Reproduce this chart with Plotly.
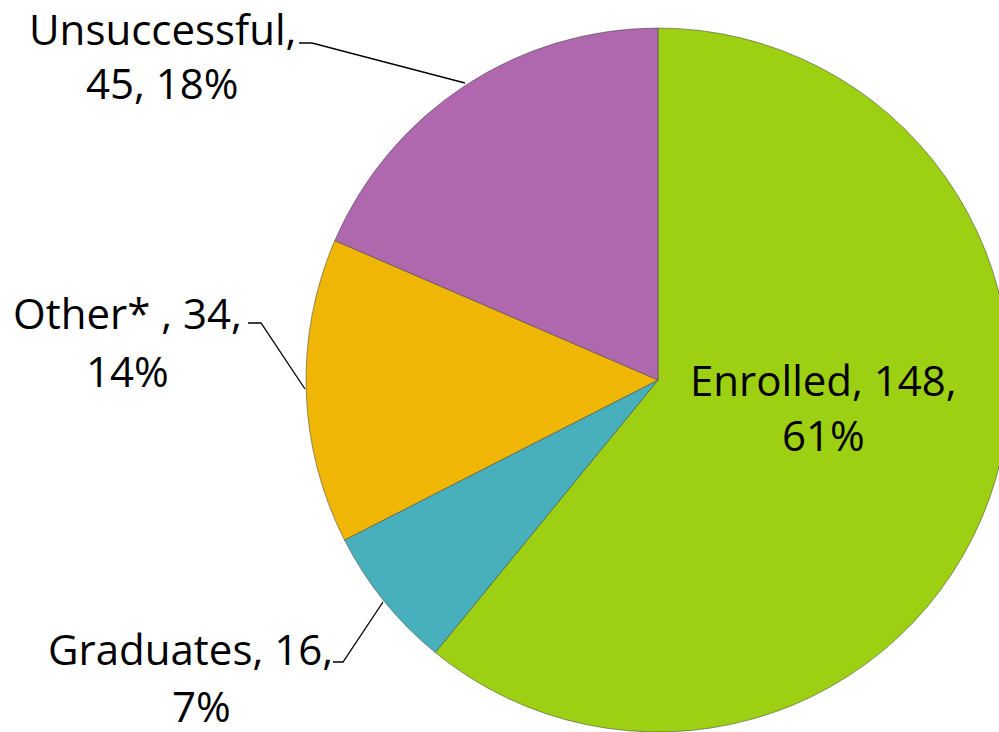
import plotly.graph_objects as go

# ---- data ----
labels = ["Enrolled", "Graduates", "Other* ", "Unsuccessful"]
values = [148, 16, 34, 45]
percents = [61, 7, 14, 18]

# ---- styling ----
colors = ["#9DD012", "#47B0BC", "#EFB606", "#AF68AE"]
OFF = 0            # page body margin removed below
W, H = 1012, 733   # figure size (pie slightly cropped on the right like the reference)
FONT = "Open Sans"
FS = 42

def px(x):
    return (x - OFF) / W

def py(y):
    return 1 - (y - OFF) / H

# pie geometry on screen: center (658, 380), radius ~352
CX, CY, R = 658, 380, 352

fig = go.Figure()
fig.add_trace(go.Pie(
    labels=labels,
    values=values,
    sort=False,
    direction="clockwise",
    rotation=0,
    textinfo="none",
    hoverinfo="label+value+percent",
    marker=dict(colors=colors, line=dict(color="rgba(70,70,70,0.55)", width=1)),
    domain=dict(x=[px(CX - R), min(1.0, px(CX + R))], y=[max(0.0, py(CY + R)), py(CY - R)]),
    showlegend=False,
))

# label placement: line1 (center x, y), line2 (center x, y), parts on first line
label_pos = {
    "Enrolled": ((823, 379), (823, 435), 2),
    "Graduates": ((190, 648), (201, 705), 2),
    "Other* ": ((127, 313), (128, 370), 2),
    "Unsuccessful": ((162, 28), (162, 82), 1),
}

annotations = []
for lab, val, pct in zip(labels, values, percents):
    (x1, y1), (x2, y2), nfirst = label_pos[lab]
    parts = [lab, str(val), f"{pct}%"]
    line1 = ", ".join(parts[:nfirst]) + ","
    line2 = ", ".join(parts[nfirst:])
    for txt, x, y in ((line1, x1, y1), (line2, x2, y2)):
        annotations.append(dict(text=txt, x=px(x), y=py(y), xref="paper", yref="paper",
                                xanchor="center", yanchor="middle", showarrow=False,
                                font=dict(family=FONT, size=FS, color="black")))

# leader lines (short horizontal then diagonal to slice edge), screen pixels
leaders = [
    [(299, 43), (312, 43), (465, 83)],
    [(248, 323), (261, 323), (305, 389)],
    [(333, 662), (343, 662), (383, 602)],
]
shapes = []
for pts in leaders:
    path = "M " + " L ".join(f"{px(x)},{py(y)}" for x, y in pts)
    shapes.append(dict(type="path", path=path, xref="paper", yref="paper",
                       line=dict(color="black", width=1.3)))

fig.update_layout(
    width=W, height=H,
    margin=dict(l=0, r=0, t=0, b=0),
    paper_bgcolor="white",
    plot_bgcolor="white",
    annotations=annotations,
    shapes=shapes,
)

# remove the page margin and scrollbars (figure is a little larger than the window)
fig.write_html(
    "out.html",
    config={"displayModeBar": False},
    post_script="document.body.style.margin='0';document.body.style.overflow='hidden';",
)
